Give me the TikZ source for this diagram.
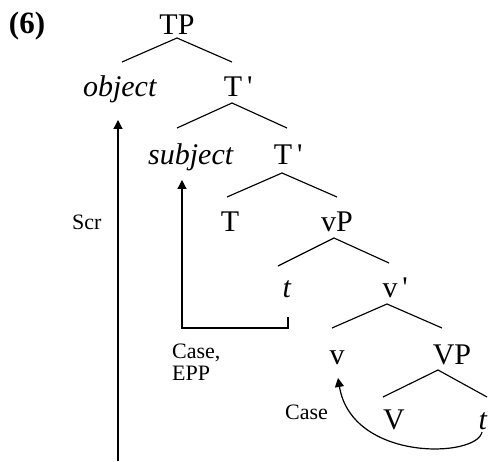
\documentclass[tikz,border=0pt]{standalone}
\usepackage{fontspec}
\setmainfont{Liberation Serif}
\usetikzlibrary{arrows.meta,calc}
\newcommand\pr{\rlap{\,\textquotesingle}}
\begin{document}
\begin{tikzpicture}[x=1pt,y=-1pt,
  lab/.style={font=\fontsize{30}{36}\selectfont, inner sep=0pt, anchor=base},
  small/.style={font=\fontsize{22}{22}\selectfont, inner sep=0pt},
  edge/.style={line width=1.15pt},
  arr/.style={line width=1.2pt, -{Triangle[width=9pt,length=9pt]}}]
\useasboundingbox (0,0) rectangle (488,462);
\node[lab, font=\fontsize{31}{36}\selectfont\bfseries] (ex) at (27,34) {(6)};
\node[lab] (TP) at (177,35) {TP};
\node[lab] (obj) at (120,97) {\textit{object}};
\node[lab] (Tb1) at (233,97) {T\pr};
\node[lab] (subj) at (191,165) {\textit{subject}};
\node[lab] (Tb2) at (283,165) {T\pr};
\node[lab] (T) at (230,232) {T};
\node[lab] (vP) at (337,232) {vP};
\node[lab] (t1) at (287,298) {\textit{t}};
\node[lab] (vb) at (390,298) {v\pr};
\node[lab] (v) at (337,365) {v};
\node[lab] (VP) at (452,365) {VP};
\node[lab] (V) at (394,430) {V};
\node[lab] (t2) at (483,430) {\textit{t}};
% tree edges
\draw[edge] ([yshift=-3pt]TP.base) -- ([xshift=2pt,yshift=35pt]obj.base);
\draw[edge] ([yshift=-3pt]TP.base) -- ([xshift=-1pt,yshift=35pt]Tb1.base);
\draw[edge] ([xshift=-1pt,yshift=-6pt]Tb1.base) -- ([xshift=-14pt,yshift=37pt]subj.base);
\draw[edge] ([xshift=-1pt,yshift=-6pt]Tb1.base) -- ([xshift=4pt,yshift=37pt]Tb2.base);
\draw[edge] ([xshift=-1pt,yshift=-8pt]Tb2.base) -- ([xshift=-3pt,yshift=35pt]T.base);
\draw[edge] ([xshift=-1pt,yshift=-8pt]Tb2.base) -- ([yshift=35pt]vP.base);
\draw[edge] ([xshift=-3pt,yshift=-6pt]vP.base) -- ([xshift=-9pt,yshift=32pt]t1.base);
\draw[edge] ([xshift=-3pt,yshift=-6pt]vP.base) -- ([xshift=-1pt,yshift=35pt]vb.base);
\draw[edge] ([xshift=-3pt,yshift=-6pt]vb.base) -- ([xshift=-5pt,yshift=37pt]v.base);
\draw[edge] ([xshift=-3pt,yshift=-6pt]vb.base) -- ([xshift=-10pt,yshift=37pt]VP.base);
\draw[edge] ([xshift=-14pt,yshift=-5pt]VP.base) -- ([xshift=-11pt,yshift=33pt]V.base);
\draw[edge] ([xshift=-14pt,yshift=-5pt]VP.base) -- ([xshift=4pt,yshift=33pt]t2.base);
% movement arrows
\coordinate (scrfoot) at (118,461);
\draw[arr] (scrfoot) -- ([xshift=-2pt,yshift=-23pt]obj.base);
\draw[arr] ([xshift=1pt,yshift=-19pt]t1.base) -- ([xshift=1pt,yshift=-30pt]t1.base) -| ([xshift=-9pt,yshift=-15pt]subj.base);
\draw[arr] ([xshift=-1pt,yshift=-2pt]t2.base) .. controls (477,458) and (352,462) .. ([xshift=1pt,yshift=-13pt]v.base);
% labels
\node[small, anchor=base west] (scr) at (72,230) {Scr};
\node[small, anchor=north west, align=left] (caseepp) at (172,344) {Case,\\EPP};
\node[small, anchor=base west] (case) at (285,420) {Case};
\end{tikzpicture}
\end{document}
